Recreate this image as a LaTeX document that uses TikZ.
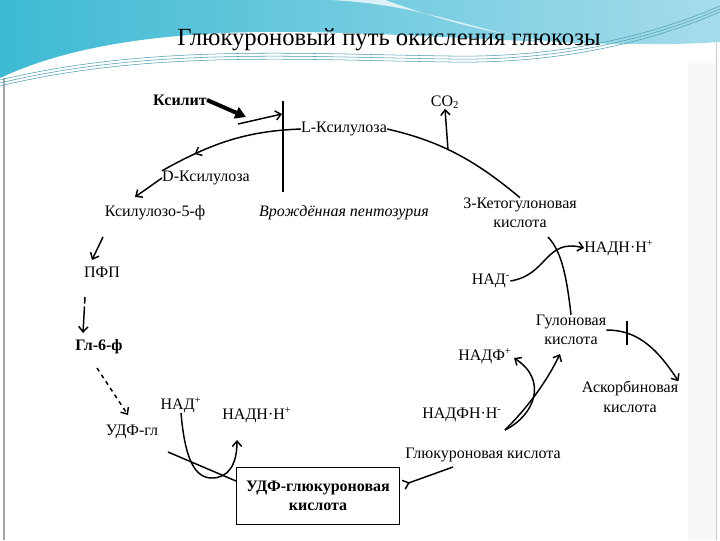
\documentclass[tikz,border=0pt]{standalone}
\usepackage{fontspec}
\setmainfont{Liberation Serif}
\usepackage{tikz}
\usetikzlibrary{arrows.meta, positioning, decorations.markings, shapes}

\definecolor{bannerL}{HTML}{3DBAD3}
\definecolor{bannerR}{HTML}{A6DCEC}
\definecolor{swline}{HTML}{4E9FB0}
\definecolor{sidegray}{HTML}{F8F8F8}

\begin{document}
\begin{tikzpicture}[x=0.75pt, y=-0.75pt,
    txt/.style={font=\fontsize{12}{14.5}\selectfont, inner sep=0pt, align=center},
    boldtxt/.style={txt, font=\fontsize{12}{14.5}\selectfont\bfseries},
    flow/.style={line width=1.1pt, -{Straight Barb[length=4pt,width=7pt]}},
    plain/.style={line width=1.1pt},
    block/.style={line width=2.2pt},
    midarrow/.style={postaction={decorate, decoration={markings,
        mark=at position #1 with {\arrow{Straight Barb[length=4pt,width=7pt]}}}}}]

    % Slide background
    \useasboundingbox (0,0) rectangle (720,540);
    \fill[white] (0,0) rectangle (720,540);
    \fill[sidegray] (688,63) rectangle (716,540);
    \draw[gray!70, line width=0.8pt] (4,78) -- (4,540);
    \draw[gray!40, line width=0.6pt] (716,40) -- (716,540);

    % Banner
    \shade[left color=bannerL, right color=bannerR] (0,0) -- (720,0) -- (720,42)
        .. controls (600,50) and (450,34) .. (300,32)
        .. controls (150,30) and (60,50) .. (0,78) -- cycle;
    \fill[white, opacity=0.75] (330,0) .. controls (420,4) and (470,30) .. (560,45)
        -- (610,48) .. controls (480,38) and (410,8) .. (385,0) -- cycle;
    \foreach \d in {0,3,6}
        \draw[swline, line width=0.4pt] (0,80+\d) .. controls (150,44+\d) and (300,54+\d) .. (450,56+\d)
            .. controls (560,58+\d) and (650,36+\d) .. (720,6+\d);

    \node[font=\fontsize{18.5}{22}\selectfont, inner sep=0pt] (title) at (389,40) {Глюкуроновый путь окисления глюкозы};

    % Pentose branch
    \node[boldtxt] (xylitol) at (180,100) {Ксилит};
    \node[txt] (lxyl) at (344,129) {L-Ксилулоза};
    \node[txt] (dxyl) at (206,178) {D-Ксилулоза};
    \node[txt] (x5p) at (155,213) {Ксилулозо-5-ф};
    \node[txt, font=\fontsize{12}{14.5}\selectfont\itshape] (pentos) at (344,213) {Врождённая пентозурия};
    \node[txt] (co2) at (445,102) {CO\textsubscript{2}};
    \node[txt] (keto) at (520,213) {3-Кетогулоновая\\кислота};
    \node[txt] (nadh1) at (619,248) {НАДН·Н\textsuperscript{+}};
    \node[txt] (nad1) at (491,281) {НАД\textsuperscript{-}};
    \node[txt] (gulon) at (571,330) {Гулоновая\\кислота};
    \node[txt] (ascorb) at (630,397) {Аскорбиновая\\кислота};
    \node[txt] (nadp) at (485,356) {НАДФ\textsuperscript{+}};
    \node[txt] (nadph) at (462,415) {НАДФН·Н\textsuperscript{-}};
    \node[txt] (glucur) at (483,455) {Глюкуроновая кислота};

    % Main chain
    \node[boldtxt, draw, line width=0.8pt, minimum width=163*0.75pt, minimum height=57*0.75pt] (udpga) at (318,496) {УДФ-глюкуроновая\\кислота};
    \node[txt] (udpgl) at (132,432) {УДФ-гл};
    \node[txt] (nad2) at (181,405) {НАД\textsuperscript{+}};
    \node[txt] (nadh2) at (257,415) {НАДН·Н\textsuperscript{+}};
    \node[boldtxt] (g6p) at (99,347) {Гл-6-ф};
    \node[txt] (pfp) at (102,272) {ПФП};

    % Points on the arcs
    \coordinate (kx) at (238,124);
    \coordinate (kxend) at (282,114);
    \coordinate (co2fork) at (448,150);
    \coordinate (cross) at (548,237);
    \coordinate (nadbot) at (212,478);
    \coordinate (nadup) at (237,440);
    \coordinate (x5pout) at (103,237);
    \coordinate (pfpin) at (92,260);
    \coordinate (pfpout) at (85,297);
    \coordinate (g6pin) at (83,333);
    \coordinate (g6pout) at (97,368);
    \coordinate (udpglin) at (128,415);
    \coordinate (udpglout) at (168,452);
    \coordinate (udpgain) at (236,481);
    \coordinate (udpgaout) at (403,485);
    \coordinate (glucin) at (453,467);
    \coordinate (glucout) at (505,430);
    \coordinate (gulonin) at (560,354);
    \coordinate (nadpin) at (514,358);
    \coordinate (bar) at (627,333);

    % Connectors
    \draw[line width=3pt, -{Triangle[length=8pt,width=9pt]}] (xylitol.east) -- (246,117);
    \draw[flow] (kx) -- (kxend);
    \draw[block] (283,101) -- (283,192);
    \draw[plain, midarrow=0.75] (lxyl.west) .. controls (250,131) and (215,141) .. (dxyl.north west);
    \draw[flow] (dxyl.west) -- (135,197);
    \draw[plain] (lxyl.east) .. controls (440,141) and (475,160) .. (keto.north);
    \draw[flow] (co2fork) -- (co2.south);
    \draw[flow] (x5pout) -- (pfpin);
    \draw[flow, dash pattern=on 5pt off 2pt on 40pt] (pfpout) -- (g6pin);
    \draw[flow, dashed] (g6pout) -- (udpglin);
    \draw[plain] (udpglout) -- (udpgain);
    \draw[flow] (nad2.south) .. controls (185,460) and (195,478) .. (nadbot)
        .. controls (228,478) and (237,465) .. (nadup);
    \draw[plain, {Straight Barb[reversed,length=4pt,width=7pt]}-] (udpgaout) -- (glucin);
    \draw[flow] (glucout) .. controls (535,415) and (548,380) .. (nadpin);
    \draw[flow] (glucout) .. controls (525,410) and (545,385) .. (gulonin);
    \draw[plain] (gulon.north) .. controls (566,270) and (560,250) .. (cross);
    \draw[flow] (nad1.east) .. controls (548,275) and (545,238) .. (nadh1.west);
    \draw[flow] (gulon.east) .. controls (635,330) and (655,345) .. (ascorb.north east);
    \draw[line width=1.6pt] (bar) ++(0,-12) -- ++(0,24);
\end{tikzpicture}
\end{document}
